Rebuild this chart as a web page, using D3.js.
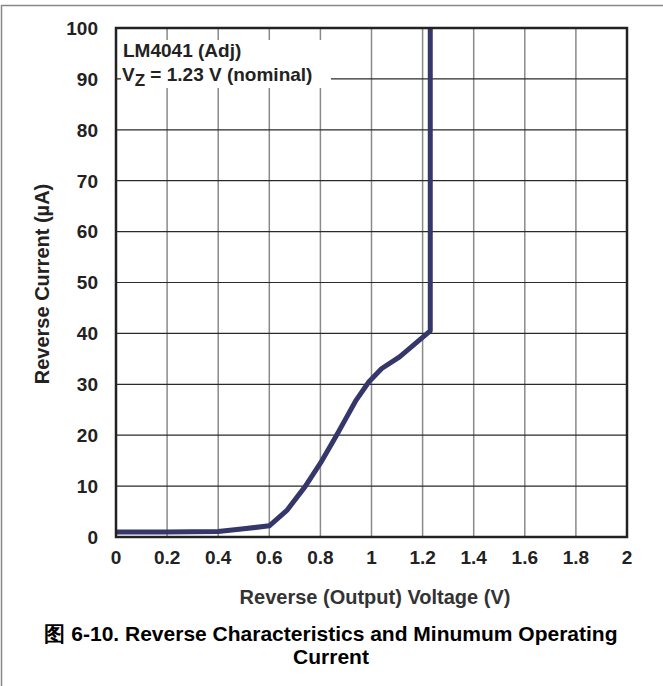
<!DOCTYPE html>
<html>
<head>
<meta charset="utf-8">
<script src="https://cdn.jsdelivr.net/npm/d3@7"></script>
<style>
  body { margin: 0; background: #fff; }
  svg { display: block; font-family: "Liberation Sans", Arial, sans-serif; font-weight: bold; }
</style>
</head>
<body>
<script>
// Curve: reverse voltage (V) vs reverse current (uA)
const voltage = [0, 0.2, 0.4, 0.5, 0.6, 0.67, 0.74, 0.8, 0.86, 0.9, 0.94, 0.99, 1.04, 1.11, 1.23, 1.23];
const current = [1, 1, 1.1, 1.6, 2.2, 5.3, 9.9, 14.5, 19.7, 23.3, 26.9, 30.5, 33.1, 35.4, 40.5, 100];

const xTicks = [0, 0.2, 0.4, 0.6, 0.8, 1, 1.2, 1.4, 1.6, 1.8, 2];
const yTicks = [0, 10, 20, 30, 40, 50, 60, 70, 80, 90, 100];

const width = 663, height = 686;
const plotLeft = 116, plotRight = 627, plotTop = 28, plotBottom = 537;

const svg = d3.select("body").append("svg")
  .attr("width", width)
  .attr("height", height);

// outer frame (top and left edges)
svg.append("line").attr("x1", 1).attr("x2", width).attr("y1", 5.5).attr("y2", 5.5)
  .attr("stroke", "#888").attr("stroke-width", 1.5);
svg.append("line").attr("x1", 1.5).attr("x2", 1.5).attr("y1", 5).attr("y2", height)
  .attr("stroke", "#888").attr("stroke-width", 1.5);

const x = d3.scaleLinear().domain([0, 2]).range([plotLeft, plotRight]);
const y = d3.scaleLinear().domain([0, 100]).range([plotBottom, plotTop]);

// vertical grid
svg.append("g")
  .selectAll("line")
  .data(xTicks.slice(1, -1))
  .join("line")
  .attr("x1", d => x(d)).attr("x2", d => x(d))
  .attr("y1", plotTop).attr("y2", plotBottom)
  .attr("stroke", "#8a8a8a").attr("stroke-width", 1.5);

// horizontal grid
svg.append("g")
  .selectAll("line")
  .data(yTicks.slice(1, -1))
  .join("line")
  .attr("x1", plotLeft).attr("x2", plotRight)
  .attr("y1", d => y(d)).attr("y2", d => y(d))
  .attr("stroke", "#2a2a2a").attr("stroke-width", 1.2);

// white box behind the note
svg.append("rect")
  .attr("x", 121).attr("y", 40).attr("width", 210).attr("height", 48)
  .attr("fill", "#fff");

// the curve
svg.append("path")
  .datum(voltage.map((v, i) => [v, current[i]]))
  .attr("d", d3.line().x(d => x(d[0])).y(d => y(d[1])))
  .attr("fill", "none")
  .attr("stroke", "#35366a")
  .attr("stroke-width", 5)
  .attr("stroke-linejoin", "round");

// plot border
svg.append("rect")
  .attr("x", plotLeft).attr("y", plotTop)
  .attr("width", plotRight - plotLeft).attr("height", plotBottom - plotTop)
  .attr("fill", "none").attr("stroke", "#222").attr("stroke-width", 2.5);

// tick labels
svg.append("g")
  .selectAll("text")
  .data(yTicks)
  .join("text")
  .attr("x", 98).attr("y", d => y(d))
  .attr("dy", "0.36em")
  .attr("text-anchor", "end")
  .attr("font-size", 19)
  .attr("fill", "#222")
  .text(d => d);

svg.append("g")
  .selectAll("text")
  .data(xTicks)
  .join("text")
  .attr("x", d => x(d)).attr("y", 557)
  .attr("dy", "0.36em")
  .attr("text-anchor", "middle")
  .attr("font-size", 19)
  .attr("fill", "#222")
  .text(d => d);

// axis titles
svg.append("text")
  .attr("x", 375).attr("y", 604)
  .attr("text-anchor", "middle")
  .attr("font-size", 20)
  .attr("fill", "#333")
  .text("Reverse (Output) Voltage (V)");

svg.append("text")
  .attr("transform", "translate(49,284) rotate(-90)")
  .attr("text-anchor", "middle")
  .attr("font-size", 20)
  .attr("fill", "#222")
  .text("Reverse Current (µA)");

// note
svg.append("text")
  .attr("x", 123).attr("y", 57)
  .attr("font-size", 19)
  .attr("fill", "#222")
  .text("LM4041 (Adj)");

const vz = svg.append("text")
  .attr("x", 122).attr("y", 81)
  .attr("font-size", 19)
  .attr("fill", "#222");
vz.append("tspan").text("V");
vz.append("tspan").attr("font-size", 17).attr("dy", 5).text("Z");
vz.append("tspan").attr("dy", -5).text(" = 1.23 V (nominal)");

// caption
svg.append("text")
  .attr("x", 331).attr("y", 641)
  .attr("text-anchor", "middle")
  .attr("font-size", 21)
  .attr("fill", "#000")
  .text("图 6-10. Reverse Characteristics and Minumum Operating");
svg.append("text")
  .attr("x", 331).attr("y", 664)
  .attr("text-anchor", "middle")
  .attr("font-size", 21)
  .attr("fill", "#000")
  .text("Current");
</script>
</body>
</html>
